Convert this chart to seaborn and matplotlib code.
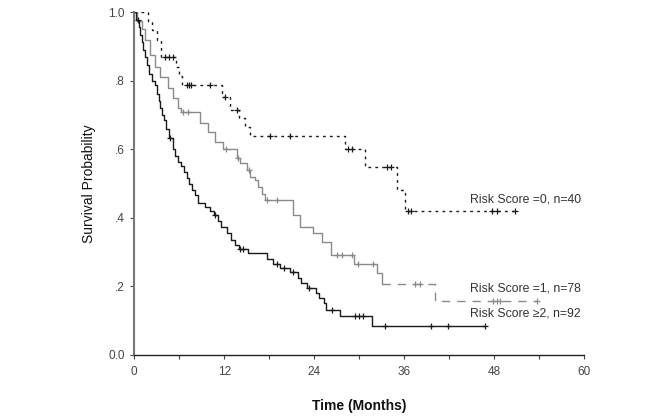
import numpy as np
import pandas as pd
import seaborn as sns
import matplotlib.pyplot as plt

# Data Setting (Kaplan-Meier steps)
times0 = [0, 1.9, 2.4, 3.0, 3.6, 5.6, 6.0, 6.4, 11.7, 12.8, 14.0, 14.8, 15.4, 28.1, 30.8, 35.0, 36.1]
surv0 = [1.0, 0.974, 0.947, 0.92, 0.87, 0.84, 0.813, 0.787, 0.752, 0.714, 0.69, 0.664, 0.638,
         0.60, 0.548, 0.48, 0.42]
censor0 = [4.1, 4.6, 5.2, 7.0, 7.3, 7.6, 10.1, 12.1, 13.7, 18.1, 20.8, 28.5, 29.0, 33.7, 34.2,
           36.5, 36.9, 47.7, 48.4, 50.7]

times1 = [0, 0.4, 1.1, 1.5, 2.1, 2.8, 3.5, 4.5, 5.2, 5.9, 6.3, 8.8, 9.9, 10.8, 11.9, 13.7, 14.1,
          15.1, 15.5, 16.1, 16.5, 17.0, 17.5, 21.2, 22.1, 23.9, 25.1, 26.3, 29.3, 32.4, 33.0, 40.1]
surv1 = [1.0, 0.974, 0.95, 0.92, 0.875, 0.84, 0.81, 0.78, 0.75, 0.72, 0.708, 0.676, 0.65, 0.62,
         0.60, 0.574, 0.56, 0.54, 0.52, 0.51, 0.49, 0.47, 0.452, 0.408, 0.373, 0.356, 0.33, 0.29,
         0.265, 0.24, 0.207, 0.157]
censor1 = [6.5, 7.2, 12.3, 13.9, 15.3, 17.7, 19.1, 27.0, 27.7, 29.1, 29.9, 31.9, 37.5, 38.1,
           47.9, 48.4, 48.8, 53.7]

times2 = [0, 0.3, 0.6, 0.8, 1.0, 1.2, 1.4, 1.7, 2.0, 2.4, 2.8, 3.0, 3.3, 3.5, 3.7, 4.0, 4.3, 4.6,
          5.2, 5.5, 5.8, 6.3, 6.7, 7.0, 7.3, 7.7, 8.1, 8.5, 9.5, 10.1, 10.6, 11.2, 11.6, 12.4, 12.9,
          13.5, 14.0, 15.2, 17.7, 18.5, 19.4, 20.8, 21.8, 22.2, 23.0, 24.2, 24.6, 25.3, 25.6, 27.4,
          31.7]
surv2 = [1.0, 0.978, 0.956, 0.934, 0.912, 0.89, 0.868, 0.846, 0.82, 0.80, 0.787, 0.76, 0.74, 0.72,
         0.70, 0.685, 0.66, 0.633, 0.60, 0.58, 0.563, 0.55, 0.535, 0.515, 0.50, 0.48, 0.465, 0.443,
         0.432, 0.42, 0.408, 0.39, 0.373, 0.356, 0.335, 0.32, 0.309, 0.297, 0.28, 0.265, 0.254,
         0.242, 0.225, 0.21, 0.195, 0.18, 0.165, 0.15, 0.13, 0.114, 0.085]
censor2 = [0.5, 4.8, 10.8, 14.1, 14.5, 19.0, 20.0, 21.2, 23.3, 26.4, 29.5, 30.0, 30.5, 33.4, 39.6,
           41.9, 46.8]

labels = ['Risk Score =0, n=40', 'Risk Score =1, n=78', 'Risk Score \u22652, n=92']
x_ticks = [0, 12, 24, 36, 48, 60]
y_ticks = [0.0, 0.2, 0.4, 0.6, 0.8, 1.0]
y_ticklabels = ['0.0', '.2', '.4', '.6', '.8', '1.0']


def km_frame(times, surv, censor):
    t = list(times) + [max(censor)]
    s = list(surv) + [surv[-1]]
    return pd.DataFrame({'time': t, 'surv': s})


def censor_frame(times, surv, censor):
    idx = np.searchsorted(times, censor, side='right') - 1
    return pd.DataFrame({'time': censor, 'surv': np.array(surv)[idx]})


# Drawing
sns.set_style('ticks')
plt.rcParams['font.family'] = ['Liberation Sans', 'DejaVu Sans']

fig = plt.figure(figsize=(6.67, 4.18), dpi=100)
ax = fig.add_axes([0.201, 0.151, 0.675, 0.820])

black = '#1a1a1a'
gray = '#8a8a8a'

# Risk score 0: dotted black
df0 = km_frame(times0, surv0, censor0)
sns.lineplot(df0, x='time', y='surv', drawstyle='steps-post', estimator=None, sort=False,
             color=black, linewidth=1.0, linestyle=(0, (2, 3)), ax=ax)

# Risk score 1: gray, solid then long dashes
df1 = km_frame(times1, surv1, censor1)
split = 33.0
sns.lineplot(df1[df1.time <= split], x='time', y='surv', drawstyle='steps-post', estimator=None,
             sort=False, color=gray, linewidth=1.0, ax=ax)
sns.lineplot(df1[df1.time >= split], x='time', y='surv', drawstyle='steps-post', estimator=None,
             sort=False, color=gray, linewidth=1.0, linestyle=(0, (6, 5)), ax=ax)

# Risk score >=2: solid black
df2 = km_frame(times2, surv2, censor2)
sns.lineplot(df2, x='time', y='surv', drawstyle='steps-post', estimator=None, sort=False,
             color=black, linewidth=1.0, ax=ax)

# censor marks
for times, surv, censor, col in [(times0, surv0, censor0, black), (times1, surv1, censor1, gray),
                                  (times2, surv2, censor2, black)]:
    sns.scatterplot(censor_frame(times, surv, censor), x='time', y='surv', marker='+', s=24,
                    color=col, linewidth=0.9, ax=ax, zorder=3)

ax.text(44.8, 0.452, labels[0], ha='left', va='center', fontsize=8.8, color='#333333')
ax.text(44.8, 0.195, labels[1], ha='left', va='center', fontsize=8.8, color='#333333')
ax.text(44.8, 0.122, labels[2], ha='left', va='center', fontsize=8.8, color='#333333')

ax.set_xlim(0, 60)
ax.set_ylim(0, 1.0)
ax.set_xticks(x_ticks)
ax.set_xticks(np.arange(6, 60, 12), minor=True)
ax.set_yticks(y_ticks)
ax.set_yticklabels(y_ticklabels)
ax.tick_params(axis='both', which='both', direction='out', length=3, width=0.8,
               labelsize=8.5, labelcolor='#444444', color='#444444')
ax.tick_params(axis='x', pad=5)
ax.spines['top'].set_visible(False)
ax.spines['right'].set_visible(False)
ax.spines['left'].set_color('#777777')
ax.spines['left'].set_linewidth(1.5)
ax.spines['bottom'].set_color('#222222')
ax.spines['bottom'].set_linewidth(1.0)

ax.set_xlabel('Time (Months)', fontsize=10, fontweight='bold', color='#111111', labelpad=15)
ax.set_ylabel('Survival Probability', fontsize=10, color='#111111', labelpad=9)

plt.savefig('out.png', dpi=100)
